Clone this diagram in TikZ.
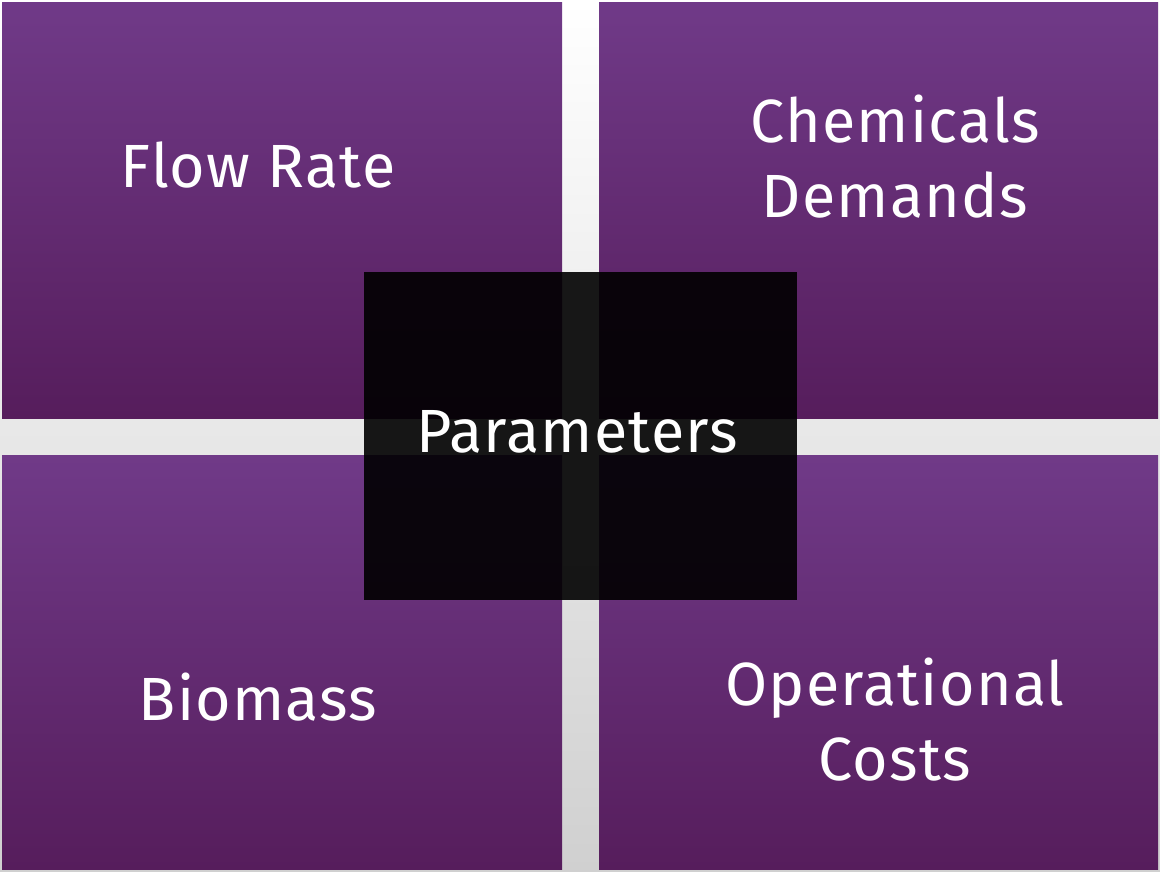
\documentclass[tikz,border=0pt]{standalone}
\usepackage{fontspec}
\setmainfont{Fira Sans}[LetterSpace=2]
\definecolor{quadtop}{HTML}{703A88}
\definecolor{quadbot}{HTML}{561D5C}
\definecolor{bgtop}{HTML}{FFFFFF}
\definecolor{bgbot}{HTML}{D0D0D0}
\begin{document}
\begin{tikzpicture}[x=1pt,y=-1pt,
  quad/.style={top color=quadtop,bottom color=quadbot,draw=none},
  txt/.style={text=white,font=\fontsize{61}{75}\selectfont,align=center,inner sep=0pt},
  centerbox/.style={fill=black,fill opacity=0.9,draw=none}]
  % background
  \path[top color=bgtop,bottom color=bgbot] (0,0) rectangle (1160,871);
  \useasboundingbox (0,0) rectangle (1160,871);
  % quadrants
  \path[quad] (2,2) rectangle (562,418);
  \path[quad] (599,2) rectangle (1158,418);
  \path[quad] (2,455) rectangle (562,869);
  \path[quad] (599,455) rectangle (1158,869);
  % central box
  \path[centerbox] (364,272) rectangle (797,600);
  % texts
  \node[txt] (flow) at (258,165) {Flow Rate};
  \node[txt] (chem) at (895,157) {Chemicals\\Demands};
  \node[txt] (bio) at (258,697) {Biomass};
  \node[txt] (ops) at (895,720) {Operational\\Costs};
  \node[txt] (par) at (577,432) {Parameters};
\end{tikzpicture}
\end{document}
